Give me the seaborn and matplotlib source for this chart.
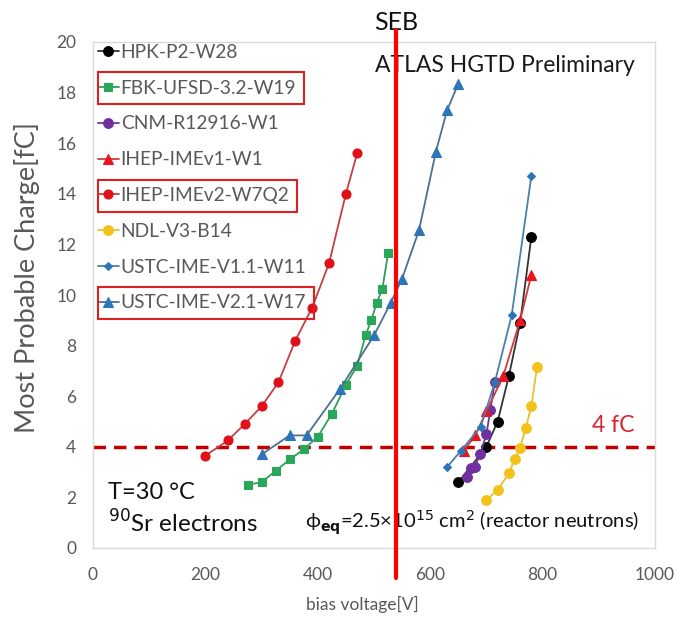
import matplotlib
matplotlib.use("Agg")
import matplotlib.pyplot as plt
import seaborn as sns
import pandas as pd
from matplotlib.patches import Rectangle
from matplotlib.ticker import MultipleLocator

sns.set_theme(style="white")
plt.rcParams["font.family"] = ["Lato", "DejaVu Sans"]
plt.rcParams["mathtext.fontset"] = "dejavusans"

# Most probable charge [fC] versus bias voltage [V] per sensor
hpk_v = [650, 700, 720, 740, 760, 780]
hpk_q = [2.6, 4.0, 5.0, 6.8, 8.9, 12.3]

fbk_v = [275, 300, 325, 350, 375, 400, 425, 450, 470, 485, 495, 505, 515, 525]
fbk_q = [2.5, 2.6, 3.05, 3.5, 3.9, 4.4, 5.3, 6.45, 7.2, 8.4, 9.0, 9.7, 10.25, 11.65]

cnm_v = [665, 673, 679, 689, 700, 707, 715]
cnm_q = [2.8, 3.15, 3.2, 3.7, 4.5, 5.45, 6.55]

ihep1_v = [660, 680, 700, 730, 760, 780]
ihep1_q = [3.85, 4.45, 5.4, 6.8, 9.0, 10.8]

ihep2_v = [200, 240, 270, 300, 330, 360, 390, 420, 450, 470]
ihep2_q = [3.65, 4.25, 4.9, 5.6, 6.55, 8.2, 9.5, 11.25, 14.0, 15.6]

ndl_v = [700, 720, 740, 750, 760, 770, 780, 790]
ndl_q = [1.9, 2.3, 2.95, 3.5, 3.95, 4.75, 5.6, 7.15]

ustc11_v = [630, 655, 690, 715, 745, 780]
ustc11_q = [3.2, 3.85, 4.8, 6.55, 9.2, 14.7]

ustc21_v = [300, 350, 380, 440, 500, 530, 550, 580, 610, 630, 650]
ustc21_q = [3.7, 4.45, 4.45, 6.3, 8.4, 9.7, 10.65, 12.55, 15.65, 17.3, 18.35]

seb_voltage = 540
threshold_fc = 4

series = [
    ("HPK-P2-W28", hpk_v, hpk_q,
     dict(color="#333333", marker="o", markersize=7, markerfacecolor="#000000", markeredgecolor="#000000")),
    ("FBK-UFSD-3.2-W19", fbk_v, fbk_q,
     dict(color="#2f9e5a", marker="s", markersize=5.5, markerfacecolor="#2aa65a", markeredgecolor="#2aa65a")),
    ("CNM-R12916-W1", cnm_v, cnm_q,
     dict(color="#6a3a9a", marker="o", markersize=7, markerfacecolor="#7030a0", markeredgecolor="#7030a0")),
    ("IHEP-IMEv1-W1", ihep1_v, ihep1_q,
     dict(color="#d23a3a", marker="^", markersize=6.5, markerfacecolor="#e8161f", markeredgecolor="#e8161f")),
    ("IHEP-IMEv2-W7Q2", ihep2_v, ihep2_q,
     dict(color="#c24045", marker="o", markersize=6.5, markerfacecolor="#e0101a", markeredgecolor="#e0101a")),
    ("NDL-V3-B14", ndl_v, ndl_q,
     dict(color="#e8c030", marker="o", markersize=7, markerfacecolor="#f2c21b", markeredgecolor="#f2c21b")),
    ("USTC-IME-V1.1-W11", ustc11_v, ustc11_q,
     dict(color="#4a7fae", marker="D", markersize=4, markerfacecolor="#2e75b6", markeredgecolor="#2e75b6")),
    ("USTC-IME-V2.1-W17", ustc21_v, ustc21_q,
     dict(color="#4f6f8f", marker="^", markersize=6.5, markerfacecolor="#2e75b6", markeredgecolor="#2e75b6")),
]

fig = plt.figure(figsize=(6.77, 6.2), dpi=100)
ax = fig.add_axes([93 / 677, 1 - 548 / 620, 562 / 677, 506 / 620])

for label, v, q, style in series:
    df = pd.DataFrame({"bias": v, "charge": q})
    sns.lineplot(data=df, x="bias", y="charge", ax=ax, sort=False, estimator=None,
                 label=label, linewidth=1.3, markeredgewidth=0.8, **style)

ax.set_xlim(0, 1000)
ax.set_ylim(0, 20)
ax.xaxis.set_major_locator(MultipleLocator(200))
ax.xaxis.set_minor_locator(MultipleLocator(50))
ax.yaxis.set_major_locator(MultipleLocator(2))
ax.yaxis.set_minor_locator(MultipleLocator(0.5))
ax.tick_params(axis="both", which="major", direction="in", length=4, color="#bfbfbf",
               labelsize=12.5, labelcolor="#595959")
ax.tick_params(axis="both", which="minor", direction="in", length=3, color="#bfbfbf")
ax.tick_params(axis="x", which="major", pad=14)
ax.tick_params(axis="y", which="major", pad=12)
for sp in ax.spines.values():
    sp.set_color("#d9d9d9")
    sp.set_linewidth(1.0)

ax.set_xlabel("bias voltage[V]", fontsize=12.5, color="#595959")
ax.xaxis.set_label_coords(0.479, -0.095)
ax.set_ylabel("Most Probable Charge[fC]", fontsize=19.5, color="#595959")
ax.yaxis.set_label_coords(-0.094, 0.535)

# 4 fC threshold and single-event-burnout voltage
ax.axhline(threshold_fc, color="#c00000", lw=2.5, ls=(0, (3.6, 2.3)), zorder=1)
ax.axvline(seb_voltage, ymin=-0.059, ymax=1.024, color="#ff0000", lw=3, clip_on=False, zorder=5)
ax.text(seb_voltage, 1.039, "SEB", transform=ax.get_xaxis_transform(), ha="center", va="center",
        fontsize=18, color="#111111")

ax.text(0.502, 0.953, "ATLAS HGTD Preliminary", transform=ax.transAxes, ha="left", va="center",
        fontsize=16.5, color="#1a1a1a")
ax.text(0.963, 0.243, f"{threshold_fc} fC", transform=ax.transAxes, ha="right", va="center",
        fontsize=16.5, color="#d9232e")
ax.text(0.027, 0.109, "T=30 °C", transform=ax.transAxes, ha="left", va="center",
        fontsize=17, color="#111111")
ax.text(0.027, 0.049, r"$^{90}$Sr electrons", transform=ax.transAxes, ha="left", va="center",
        fontsize=17.5, color="#111111")
ax.text(0.377, 0.049, "ϕ" + r"$_{\mathbf{eq}}$=2.5×10$^{15}$ cm$^{2}$ (reactor neutrons)",
        transform=ax.transAxes, ha="left", va="center", fontsize=14.5, color="#111111")

handles, labels = ax.get_legend_handles_labels()
leg = ax.legend(handles, labels, loc="upper left", bbox_to_anchor=(0.005, 1.0), frameon=False,
                fontsize=13.8, labelcolor="#595959", handlelength=1.1, handletextpad=0.1,
                labelspacing=0.98, borderaxespad=0, borderpad=0.1)

# Highlight boxes around selected sensors in the legend
fig.canvas.draw()
renderer = fig.canvas.get_renderer()
ax_left_px = ax.get_window_extent(renderer).x0
to_fig = fig.transFigure.inverted()
for idx in (1, 4, 7):
    bb = leg.get_texts()[idx].get_window_extent(renderer)
    yc = (bb.y0 + bb.y1) / 2
    x0, y0 = to_fig.transform((ax_left_px + 5, yc - 16))
    x1, y1 = to_fig.transform((bb.x1 + 8, yc + 16))
    fig.add_artist(Rectangle((x0, y0), x1 - x0, y1 - y0, transform=fig.transFigure,
                             fill=False, edgecolor="#e02020", linewidth=1.5, zorder=10))

fig.savefig("out.png", dpi=100)
